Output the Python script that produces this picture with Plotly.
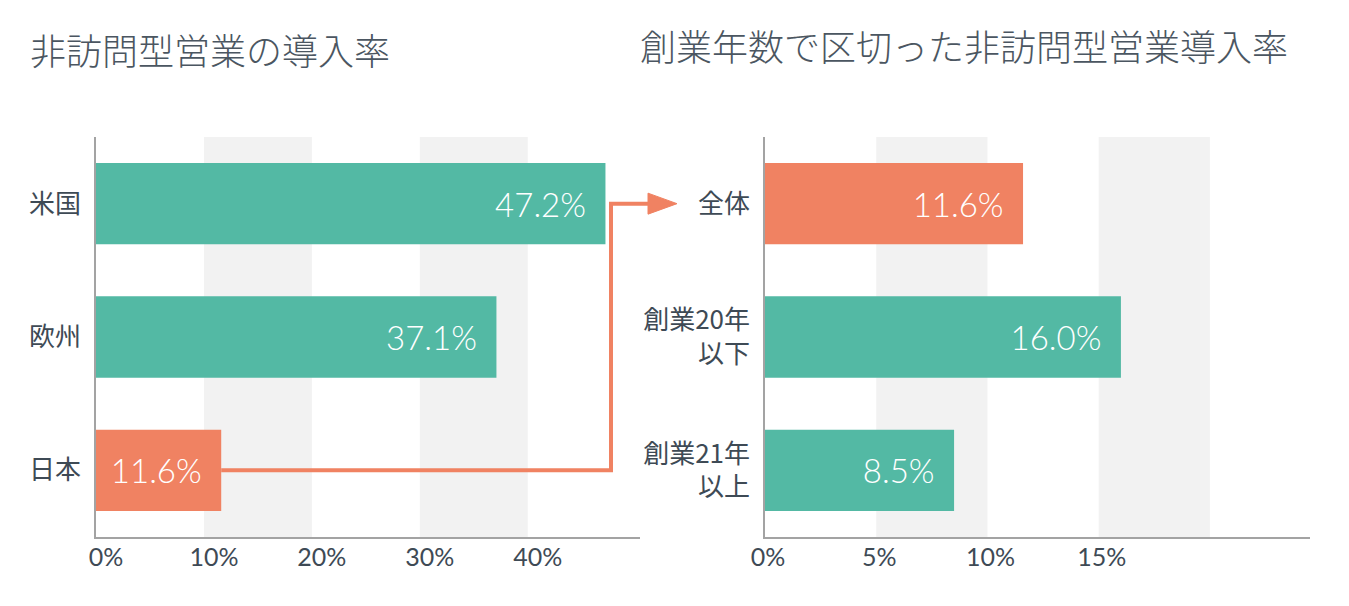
import plotly.graph_objects as go

# ---------------- data ----------------
left_title = "非訪問型営業の導入率"
right_title = "創業年数で区切った非訪問型営業導入率"

regions = ["米国", "欧州", "日本"]
region_rates = [47.2, 37.1, 11.6]

groups = ["全体", "創業20年<br>以下", "創業21年<br>以上"]
group_rates = [11.6, 16.0, 8.5]

left_ticks = [0, 10, 20, 30, 40]
left_tick_text = ["0%", "10%", "20%", "30%", "40%"]
right_ticks = [0, 5, 10, 15]
right_tick_text = ["0%", "5%", "10%", "15%"]

left_bands = [(10, 20), (30, 40)]
right_bands = [(5, 10), (15, 20)]

# ---------------- style ----------------
TEAL = "#53b9a4"
ORANGE = "#f08262"
BAND = "#f2f2f2"
AXIS = "#a3a3a3"
TEXT = "#3e4a55"
W, H = 1349, 606

region_colors = [TEAL, TEAL, ORANGE]
group_colors = [ORANGE, TEAL, TEAL]

LX = [96 / W, 640 / W]
RX = [765 / W, 1310 / W]
YD = [1 - 537 / H, 1 - 137 / H]
LMAX, RMAX = 50.4, 24.5

NUMFONT = "Lato, Noto Sans CJK JP, sans-serif"
JPFONT = "Noto Sans CJK JP, Lato, sans-serif"

fig = go.Figure()

fig.add_trace(go.Bar(
    x=region_rates, y=regions, orientation="h",
    marker=dict(color=region_colors, line=dict(width=0)),
    width=0.61,
    texttemplate="%{x:.1f}%\u2002", textposition="inside", insidetextanchor="end",
    insidetextfont=dict(family=NUMFONT, size=33, color="white", weight=300),
    constraintext="none",
    xaxis="x", yaxis="y", hoverinfo="skip", showlegend=False,
))
fig.add_trace(go.Bar(
    x=group_rates, y=groups, orientation="h",
    marker=dict(color=group_colors, line=dict(width=0)),
    width=0.61,
    texttemplate="%{x:.1f}%\u2002", textposition="inside", insidetextanchor="end",
    insidetextfont=dict(family=NUMFONT, size=33, color="white", weight=300),
    constraintext="none",
    xaxis="x2", yaxis="y2", hoverinfo="skip", showlegend=False,
))

shapes = []
for a, b in left_bands:
    shapes.append(dict(type="rect", xref="x", yref="y domain", x0=a, x1=b, y0=0, y1=1,
                       fillcolor=BAND, line=dict(width=0), layer="below"))
for a, b in right_bands:
    shapes.append(dict(type="rect", xref="x2", yref="y2 domain", x0=a, x1=b, y0=0, y1=1,
                       fillcolor=BAND, line=dict(width=0), layer="below"))

# connector arrow from 日本 bar end to 全体 label
n = len(regions)
y_jp = YD[0] + (0.5 / n) * (YD[1] - YD[0])
y_all = YD[1] - (0.5 / len(groups)) * (YD[1] - YD[0])
x_start = LX[0] + region_rates[-1] / LMAX * (LX[1] - LX[0])
x_vert = 611 / W
x_base = 648 / W
x_tip = 677 / W
dh = 10.5 / H
shapes.append(dict(type="path", xref="paper", yref="paper",
                   path=f"M {x_start},{y_jp} H {x_vert} V {y_all} H {x_base + 2 / W}",
                   line=dict(color=ORANGE, width=4), layer="above"))
shapes.append(dict(type="path", xref="paper", yref="paper",
                   path=f"M {x_base},{y_all + dh} L {x_tip},{y_all} L {x_base},{y_all - dh} Z",
                   fillcolor=ORANGE, line=dict(color=ORANGE, width=1), layer="above"))

axis_common = dict(showgrid=False, zeroline=False, showline=True, linecolor=AXIS,
                   linewidth=1.5, ticks="", automargin=False, fixedrange=True)

fig.update_layout(
    width=W, height=H,
    margin=dict(l=0, r=0, t=0, b=0),
    paper_bgcolor="white", plot_bgcolor="white",
    xaxis=dict(domain=LX, range=[0, LMAX], tickvals=left_ticks, ticktext=left_tick_text,
               tickfont=dict(family=NUMFONT, size=25, color=TEXT), anchor="y",
               ticklabelshift=10, ticklabelstandoff=-3, **axis_common),
    yaxis=dict(domain=YD, categoryorder="array", categoryarray=regions, autorange="reversed",
               tickfont=dict(family=JPFONT, size=26, color=TEXT), anchor="x",
               ticklabelstandoff=8, **axis_common),
    xaxis2=dict(domain=RX, range=[0, RMAX], tickvals=right_ticks, ticktext=right_tick_text,
                tickfont=dict(family=NUMFONT, size=25, color=TEXT), anchor="y2",
                ticklabelshift=3, ticklabelstandoff=-3, **axis_common),
    yaxis2=dict(domain=YD, categoryorder="array", categoryarray=groups, autorange="reversed",
                tickfont=dict(family=JPFONT, size=26, color=TEXT), anchor="x2",
                ticklabelstandoff=8, **axis_common),
    shapes=shapes,
    annotations=[
        dict(text=left_title, xref="paper", yref="paper", x=28 / W, y=1 - 49 / H,
             xanchor="left", yanchor="middle", showarrow=False,
             font=dict(family=JPFONT, size=36, color="#4b5661", weight=300)),
        dict(text=right_title, xref="paper", yref="paper", x=638 / W, y=1 - 45 / H,
             xanchor="left", yanchor="middle", showarrow=False,
             font=dict(family=JPFONT, size=36, color="#4b5661", weight=300)),
    ],
)

fig.write_html("out.html", config={"displayModeBar": False},
               post_script="document.body.style.margin='0';")
